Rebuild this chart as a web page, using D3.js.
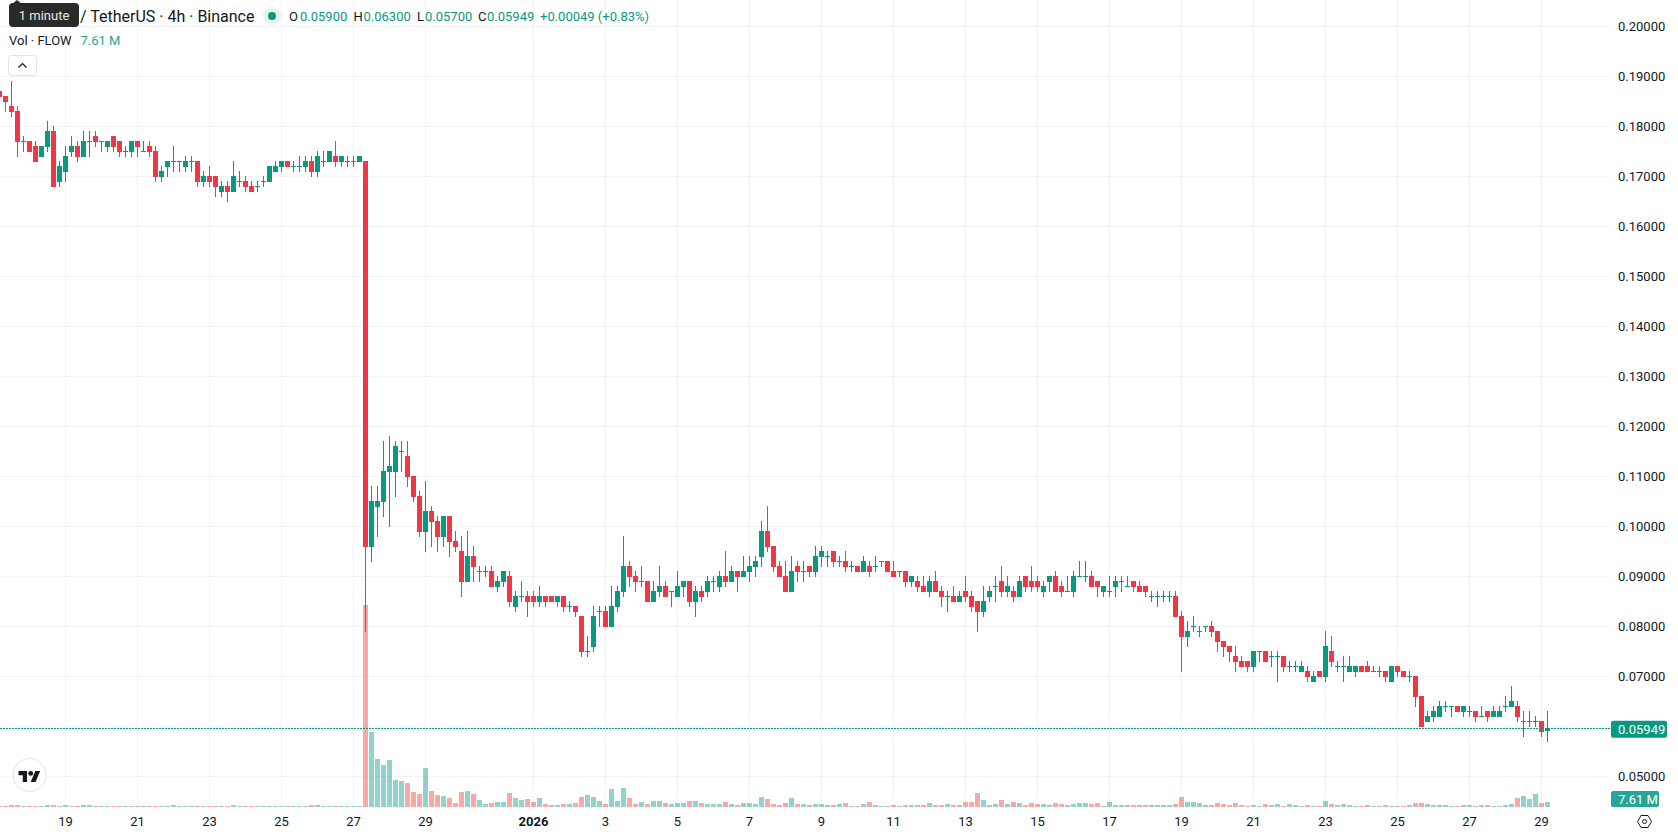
<!DOCTYPE html>
<html>
<head>
<meta charset="utf-8">
<title>FLOW / TetherUS 4h</title>
<script src="https://cdn.jsdelivr.net/npm/d3@7"></script>
<style>
  html, body { margin: 0; padding: 0; background: #fff; overflow: hidden; }
  svg { display: block; font-family: Roboto, sans-serif; }
  .crisp { shape-rendering: crispEdges; }
</style>
</head>
<body>
<div id="chart"></div>
<script>
// Four-hour FLOW/USDT candles, prices in thousandths of a USDT.
const opens = [
  187,186,184,183,177,177,176,174,176,179,
  169,171,175,176,174,177,178,177,176,178,
  177,175,175,177,175,176,175,170,172,173,
  173,172,173,173,169,170,170,167,168,167,
  169,169,168,168,169,169,171,172,173,172,
  172,172,173,171,173,173,174,173,173,173,
  173,173,96,104,105,111,111,115,114,110,
  106,99,103,101,98,102,97,95,89,94,
  91,91,91,88,89,90,84,86,86,86,
  85,86,86,85,86,84,84,82,75,76,
  83,83,80,84,87,92,90,89,89,85,
  87,88,87,86,88,89,85,87,87,89,
  88,90,89,91,90,91,92,94,99,96,
  92,90,87,92,91,92,91,94,94,95,
  93,93,92,92,91,92,92,93,93,91,
  91,91,89,89,88,87,89,87,86,86,
  85,87,86,85,83,86,88,89,87,87,
  86,90,89,89,87,89,90,88,87,87,
  90,90,90,89,87,87,88,89,88,89,
  88,88,86,86,86,86,86,82,78,80,
  79,80,80,79,77,76,74,73,73,72,
  75,75,74,74,74,72,72,71,71,69,
  71,70,75,72,72,71,71,72,72,71,
  71,71,69,72,71,70,70,66,61,62,
  62,64,64,64,63,63,63,62,63,62,
  62,64,64,64,61,61,61,61,59
];
const highs = [
  187,186,189,184,178,177,177,176,181,180,
  173,176,178,177,179,179,179,177,177,178,
  177,176,177,177,177,177,176,172,173,176,
  173,174,174,173,171,172,170,169,169,173,
  171,170,169,169,170,172,173,173,173,173,
  174,174,174,175,175,175,177,174,174,174,
  174,173,108,108,117,118,117,117,117,110,
  107,109,104,102,102,102,99,98,99,96,
  92,92,92,90,91,91,87,89,87,87,
  88,86,86,86,86,85,84,82,78,84,
  84,84,88,88,98,93,91,92,89,89,
  92,89,87,91,89,89,88,88,90,90,
  91,95,92,91,94,94,94,101,104,96,
  93,93,94,93,93,92,96,96,95,95,
  94,95,93,92,94,93,94,93,93,93,
  91,91,90,90,90,90,91,88,87,88,
  87,90,87,85,88,88,90,92,90,88,
  90,90,92,90,89,90,91,89,90,91,
  93,93,91,89,88,90,90,90,90,89,
  89,88,87,87,87,87,87,83,81,82,
  80,80,81,79,77,76,76,74,73,75,
  75,75,75,75,74,73,73,73,72,71,
  71,79,78,73,74,74,72,72,73,72,
  72,71,72,72,71,71,70,66,63,64,
  65,65,64,64,64,64,63,64,63,64,
  64,66,68,65,63,63,62,61,63
];
const lows = [
  186,183,182,174,175,175,173,174,175,168,
  168,169,174,173,174,174,176,175,175,175,
  174,174,174,174,175,174,169,169,170,171,
  171,171,171,168,168,168,166,166,165,167,
  168,167,167,167,168,169,171,171,172,171,
  171,171,170,170,172,173,172,172,172,172,
  173,79,93,98,102,100,106,111,108,105,
  98,95,96,95,96,94,95,86,89,89,
  89,90,88,87,88,84,83,85,82,84,
  84,84,85,84,83,83,82,74,74,75,
  80,80,80,83,86,88,87,88,85,85,
  86,86,84,86,86,84,82,85,86,87,
  87,88,89,87,90,89,90,92,95,91,
  90,87,87,89,89,90,90,92,92,92,
  92,91,91,91,91,90,91,92,91,90,
  90,88,88,87,87,86,87,84,83,85,
  85,85,83,79,82,85,85,86,86,85,
  86,87,87,87,86,87,87,86,87,86,
  90,89,88,86,86,86,86,87,88,87,
  87,86,85,84,85,85,82,71,76,79,
  78,79,78,75,74,73,71,72,71,71,
  73,73,72,69,71,71,71,71,69,69,
  70,69,72,71,69,71,70,71,71,71,
  70,69,69,70,70,69,64,60,61,61,
  62,63,62,63,62,62,61,62,61,62,
  62,63,64,61,58,60,60,58,57
];
const closes = [
  186,185,183,177,177,175,173,176,179,168,
  172,174,176,174,177,177,177,177,177,176,
  175,175,177,176,175,175,170,171,173,173,
  173,173,173,169,170,169,168,168,167,170,
  169,168,167,168,169,172,172,173,172,172,
  172,173,171,174,173,175,173,174,173,173,
  174,96,105,105,111,112,116,115,110,106,
  99,103,101,98,102,97,96,89,94,92,
  91,91,88,89,91,85,86,86,85,85,
  86,85,85,86,84,84,83,75,75,82,
  83,80,84,87,92,90,89,89,85,87,
  88,86,87,88,89,85,87,86,89,89,
  90,89,91,90,91,92,93,99,96,92,
  90,87,91,91,91,91,94,95,94,93,
  93,92,92,91,93,91,92,93,91,90,
  91,89,90,88,87,89,87,86,86,85,
  86,86,84,83,85,87,88,87,88,86,
  89,88,88,88,88,90,87,87,87,90,
  90,90,88,88,88,87,89,89,88,88,
  87,87,86,86,86,86,82,78,79,80,
  79,80,79,77,76,75,73,72,72,75,
  75,73,74,74,72,72,72,72,70,70,
  70,76,73,72,72,72,72,71,71,71,
  71,70,72,71,70,70,66,60,62,63,
  64,64,64,63,64,63,62,62,62,63,
  63,64,65,62,61,61,61,59,59.49
];
// Traded volume per candle, in millions of FLOW.
const volumes = [
  1.6,1.6,3.2,3.2,1.5,1.6,1.4,1.5,3.1,3.2,
  1.4,3.0,1.5,1.6,3.1,3.2,1.4,1.3,1.5,1.6,
  1.4,1.5,1.3,1.6,1.4,1.3,1.5,1.4,1.6,3.0,
  1.5,1.3,1.4,1.6,1.5,1.4,1.5,1.3,1.6,3.1,
  1.4,1.5,1.3,1.5,1.4,1.6,1.3,1.5,1.4,1.3,
  1.5,1.4,3.0,3.2,1.5,1.6,1.3,1.5,1.4,1.3,
  1.5,
  326.8,121.5,77.8,68,76.1,43.7,42.1,38.9,24.3,21,
  63.2,25.9,19.4,17.8,14.6,6.5,24.3,25.9,21,11.3,
  4.9,6.5,8.1,8.1,22.7,14.6,11.3,13,8.1,14.6,
  4.9,3.2,3.2,4.9,4.9,6.5,16.2,19.4,16.2,9.7,
  4.9,29.2,9.7,30.8,14.6,4.9,8.1,4.9,9.7,9.7,
  6.5,4.9,6.5,6.5,9.7,9.7,6.5,4.9,4.9,4.9,
  8.1,4.9,3.2,6.5,6.5,4.9,16.2,13,4.9,3.2,
  6.5,14.6,4.9,4.9,3.2,4.9,4.9,3.2,3.2,4.9,
  6.5,1.6,1.6,4.9,8.1,3.2,1.6,1.6,3.2,1.6,
  3.2,3.2,3.2,3.2,
  6.5,3.2,3.2,4.9,3.2,3.2,8.1,8.1,22.7,11.3,
  3.2,4.9,11.3,4.9,8.1,6.5,3.2,6.5,4.9,4.9,
  3.2,6.5,4.9,3.2,4.9,6.5,6.5,4.9,6.5,1.6,
  8.1,3.2,3.2,3.2,3.2,3.2,3.2,3.2,3.2,3.2,
  3.2,4.9,16.2,8.1,8.1,6.5,3.2,3.2,6.5,4.9,
  3.2,6.5,3.2,1.6,3.2,1.6,4.9,3.2,4.9,1.6,
  4.9,3.2,1.6,3.2,1.6,1.6,9.7,4.9,3.2,4.9,
  3.2,1.6,1.6,3.2,1.6,1.6,3.2,1.6,1.6,1.6,3.2,
  6.5,6.5,4.9,3.2,3.2,3.2,1.6,1.6,3.2,3.2,
  1.6,3.2,3.2,1.6,1.6,3.2,4.9,14.6,17.8,13,21,6.5,7.61
];
const priceTicks = [0.05,0.06,0.07,0.08,0.09,0.10,0.11,0.12,0.13,0.14,0.15,0.16,0.17,0.18,0.19,0.20];
const dateTicks = [
  "2025-12-19","2025-12-21","2025-12-23","2025-12-25","2025-12-27","2025-12-29",
  "2026-01-01","2026-01-03","2026-01-05","2026-01-07","2026-01-09","2026-01-11",
  "2026-01-13","2026-01-15","2026-01-17","2026-01-19","2026-01-21","2026-01-23",
  "2026-01-25","2026-01-27","2026-01-29"
].map(d => new Date(d + "T00:00:00Z"));
const firstCandle = Date.UTC(2025, 11, 17, 4);
const candleMs = 4 * 3600 * 1000;

const lastQuote = { open: "0.05900", high: "0.06300", low: "0.05700", close: "0.05949", change: "+0.00049 (+0.83%)", volume: "7.61 M" };

const W = 1678, H = 835, paneRight = 1610, baseY = 806.7;
const UP = "#089981", DOWN = "#F23645", GRID = "#f2f3f5", INK = "#131722";
const UP_VOL = "#26a69a80", DOWN_VOL = "#ef535080";
const FONT = 13;

const x = d3.scaleUtc().domain([dateTicks[0], dateTicks[dateTicks.length - 1]]).range([65.6, 1541.6]);
const y = d3.scaleLinear().domain([0.05, 0.20]).range([776.3, 26.3]);
const yVol = d3.scaleLinear().domain([0, 326.8]).range([baseY, 605]);

const candles = opens.map((o, i) => ({
  t: new Date(firstCandle + i * candleMs),
  o: o / 1000, h: highs[i] / 1000, l: lows[i] / 1000, c: closes[i] / 1000, v: volumes[i]
}));
const bodyWidth = 5;
const cx = d => Math.floor(x(d.t));

const svg = d3.select("#chart").append("svg").attr("width", W).attr("height", H);

// Gridlines
const grid = svg.append("g").attr("class", "crisp");
grid.selectAll(".hg").data(priceTicks).join("rect").attr("class", "hg")
  .attr("x", 0).attr("width", paneRight).attr("y", d => Math.floor(y(d))).attr("height", 1).attr("fill", GRID);
grid.selectAll(".vg").data(dateTicks).join("rect").attr("class", "vg")
  .attr("x", d => Math.floor(x(d))).attr("width", 1).attr("y", 0).attr("height", baseY).attr("fill", GRID);

// Volume bars sit under the candles
svg.append("g").attr("class", "crisp").selectAll("rect").data(candles).join("rect")
  .attr("x", d => cx(d) - 2).attr("width", bodyWidth)
  .attr("y", d => baseY - Math.max(1, Math.round(baseY - yVol(d.v))))
  .attr("height", d => Math.max(1, Math.round(baseY - yVol(d.v))))
  .attr("fill", d => d.c >= d.o ? UP_VOL : DOWN_VOL);

// Candles: one-pixel wick and a five-pixel body
const marks = svg.append("g").attr("class", "crisp");
marks.selectAll(".wick").data(candles).join("rect").attr("class", "wick")
  .attr("x", cx).attr("width", 1)
  .attr("y", d => Math.floor(y(d.h)))
  .attr("height", d => Math.round(y(d.l) - y(d.h)) + 1)
  .attr("fill", d => d.c >= d.o ? UP : DOWN);
marks.selectAll(".body").data(candles).join("rect").attr("class", "body")
  .attr("x", d => cx(d) - 2).attr("width", bodyWidth)
  .attr("y", d => Math.floor(y(Math.max(d.o, d.c))))
  .attr("height", d => Math.round(Math.abs(y(d.o) - y(d.c))) + 1)
  .attr("fill", d => d.c >= d.o ? UP : DOWN);

// Last-price dotted line
const last = candles[candles.length - 1];
svg.append("line").attr("class", "crisp").attr("x1", 0).attr("x2", paneRight)
  .attr("y1", Math.floor(y(last.c)) + 0.5).attr("y2", Math.floor(y(last.c)) + 0.5)
  .attr("stroke", UP).attr("stroke-dasharray", "2 1");

// Price axis
const priceAxis = svg.append("g").attr("transform", `translate(${paneRight},0)`)
  .call(d3.axisRight(y).tickValues(priceTicks).tickFormat(d3.format(".5f")).tickSize(0).tickPadding(8));
priceAxis.select(".domain").remove();
priceAxis.selectAll("text").attr("font-size", FONT).attr("font-family", "Roboto, sans-serif").attr("fill", INK);

// Time axis
const newYear = dateTicks[6];
const timeAxis = svg.append("g").attr("transform", `translate(-0.6,${baseY})`)
  .call(d3.axisBottom(x).tickValues(dateTicks).tickSize(0).tickPadding(10)
    .tickFormat(d => d === newYear ? "2026" : String(d.getUTCDate())));
timeAxis.select(".domain").remove();
timeAxis.selectAll("text").attr("font-size", FONT).attr("font-family", "Roboto, sans-serif").attr("fill", INK)
  .attr("font-weight", d => d === newYear ? 700 : 400);

// Value badges on the price scale
svg.append("rect").attr("x", 1611).attr("y", y(last.c) - 8).attr("width", 56).attr("height", 17).attr("rx", 2).attr("fill", UP);
svg.append("text").attr("x", 1618).attr("y", y(last.c) + 5).attr("font-size", FONT).attr("fill", "#fff").text(lastQuote.close);
svg.append("rect").attr("x", 1611).attr("y", 791).attr("width", 48).attr("height", 16).attr("rx", 2).attr("fill", "#26a69a");
svg.append("text").attr("x", 1618).attr("y", 803.5).attr("font-size", FONT).attr("fill", "#fff").text(lastQuote.volume);

// Settings glyph in the axis corner
svg.append("path").attr("transform", "translate(1644.5,821.5)")
  .attr("d", "M-7,0L-3.5,-6H3.5L7,0L3.5,6H-3.5Z").attr("fill", "none").attr("stroke", INK).attr("stroke-width", 1);
svg.append("circle").attr("cx", 1644.5).attr("cy", 821.5).attr("r", 2).attr("fill", "none").attr("stroke", INK);

// Brand badge
const badge = svg.append("g").attr("transform", "translate(29.5,775)");
badge.append("circle").attr("r", 16.5).attr("fill", "#fff").attr("stroke", "#e0e3eb");
badge.append("g").attr("transform", "translate(-11,-6.5) scale(0.61)").append("path")
  .attr("fill", "#131722")
  .attr("d", "M14 22H7V11H0V4h14v18zM28 22h-8l7.5-18h8L28 22z");
badge.select("g").append("circle").attr("cx", 20).attr("cy", 8).attr("r", 4).attr("fill", "#131722");

// Legend rows
const legend = svg.append("g");
legend.append("text").attr("x", 80).attr("y", 21.5).attr("font-size", 16).attr("fill", INK).text("/ TetherUS · 4h · Binance");
legend.append("circle").attr("cx", 272).attr("cy", 16).attr("r", 9).attr("fill", "#e3f3f0");
legend.append("circle").attr("cx", 272).attr("cy", 16).attr("r", 4).attr("fill", UP);
const quoteItems = [
  ["O", 289, lastQuote.open, 300],
  ["H", 353.5, lastQuote.high, 363.5],
  ["L", 417, lastQuote.low, 425],
  ["C", 478, lastQuote.close, 487]
];
quoteItems.forEach(([k, kx, val, vx]) => {
  legend.append("text").attr("x", kx).attr("y", 21).attr("font-size", FONT).attr("fill", INK).text(k);
  legend.append("text").attr("x", vx).attr("y", 21).attr("font-size", FONT).attr("fill", UP).text(val);
});
legend.append("text").attr("x", 540).attr("y", 21).attr("font-size", FONT).attr("fill", UP).text(lastQuote.change);
legend.append("text").attr("x", 9).attr("y", 45).attr("font-size", FONT).attr("fill", INK).text("Vol · FLOW");
legend.append("text").attr("x", 80.5).attr("y", 45).attr("font-size", FONT).attr("fill", "#26a69a").text(lastQuote.volume);

// Collapse button
legend.append("rect").attr("x", 8.5).attr("y", 55.5).attr("width", 28).attr("height", 20).attr("rx", 3).attr("fill", "#fff").attr("stroke", "#e0e3eb");
legend.append("path").attr("d", "M18.5,67.5L22.5,63.5L26.5,67.5").attr("fill", "none").attr("stroke", INK).attr("stroke-width", 1.2);

// Hover tooltip over the symbol name
const tip = svg.append("g");
tip.append("path").attr("d", "M12,4L17,0L22,4Z").attr("fill", "#2a2a2a");
tip.append("rect").attr("x", 9).attr("y", 3).attr("width", 70).attr("height", 24).attr("rx", 4).attr("fill", "#2a2a2a");
tip.append("text").attr("x", 44).attr("y", 20).attr("text-anchor", "middle").attr("font-size", FONT).attr("fill", "#e8e8e8").text("1 minute");
</script>
</body>
</html>
